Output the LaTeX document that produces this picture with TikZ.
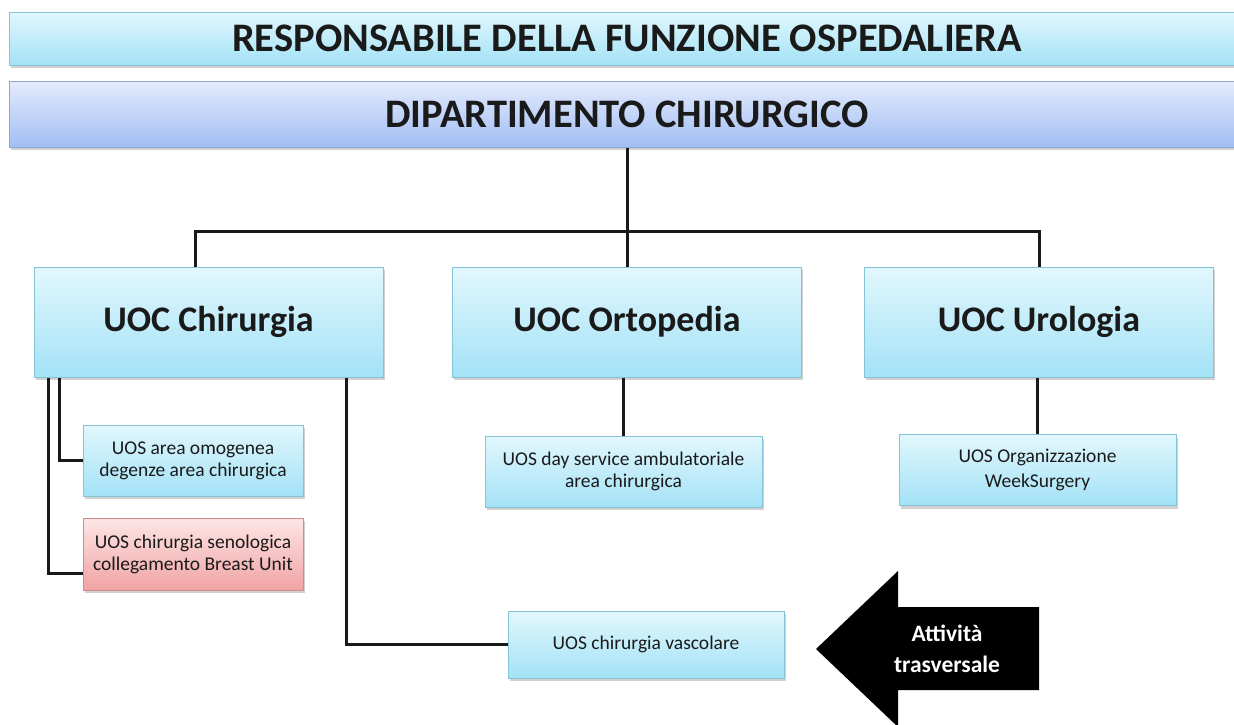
\documentclass[tikz,border=0pt]{standalone}
\usepackage{fontspec}
\setmainfont{Carlito}
\usetikzlibrary{shadows}
\definecolor{cyTop}{HTML}{E2F7FD}
\definecolor{cyBot}{HTML}{A3E2F6}
\definecolor{cyLine}{HTML}{86C3D6}
\definecolor{lvTop}{HTML}{E4EBFC}
\definecolor{lvBot}{HTML}{A2BEF4}
\definecolor{lvLine}{HTML}{8EA6D6}
\definecolor{rdTop}{HTML}{FDE6E6}
\definecolor{rdBot}{HTML}{F1A3A3}
\definecolor{rdLine}{HTML}{CF8A8A}
\definecolor{txt}{HTML}{1A1A1A}
\tikzset{
  shad/.style={drop shadow={shadow xshift=1.5pt, shadow yshift=-3pt, opacity=0.3, fill=black!60}},
  cybox/.style={shad, draw=cyLine, line width=1pt, top color=cyTop, bottom color=cyBot, inner sep=0pt, align=center, text=txt},
  lvbox/.style={shad, draw=lvLine, line width=1pt, top color=lvTop, bottom color=lvBot, inner sep=0pt, align=center, text=txt},
  rdbox/.style={shad, draw=rdLine, line width=1pt, top color=rdTop, bottom color=rdBot, inner sep=0pt, align=center, text=txt},
  uoc/.style={cybox, minimum width=349pt, minimum height=110pt, font=\fontsize{36}{40}\selectfont\bfseries},
  uos/.style={minimum width=220pt, minimum height=71pt, font=\fontsize{19.5}{22}\selectfont},
  bartext/.style={font=\fontsize{40.5}{44}\selectfont\bfseries},
  conn/.style={draw=black!90, line width=3pt},
}
\begin{document}
\begin{tikzpicture}[x=1pt,y=-1pt]
\useasboundingbox (0,0) rectangle (1234,724);
% top bars
\node[cybox, bartext, minimum width=1236pt, minimum height=53pt] (resp) at (627,38.5) {RESPONSABILE DELLA FUNZIONE OSPEDALIERA};
\node[lvbox, bartext, minimum width=1236pt, minimum height=66pt] (dip) at (627,114) {DIPARTIMENTO CHIRURGICO};
% UOC boxes
\node[uoc] (chir) at (208.5,322) {UOC Chirurgia};
\node[uoc] (orto) at (627,322) {UOC Ortopedia};
\node[uoc] (uro) at (1039,322) {UOC Urologia};
% UOS boxes
\node[cybox, uos] (omog) at (193,460.5) {UOS area omogenea\\degenze area chirurgica};
\node[rdbox, uos, minimum height=72pt] (seno) at (193,554) {UOS chirurgia senologica\\collegamento Breast Unit};
\node[cybox, uos, minimum width=277pt] (day) at (623.5,471.5) {UOS day service ambulatoriale\\area chirurgica};
\node[cybox, uos, minimum width=277pt, font=\fontsize{19.5}{25}\selectfont] (week) at (1037.5,470) {UOS Organizzazione\\WeekSurgery};
\node[cybox, uos, minimum width=276pt, minimum height=67pt] (vasc) at (646,644.5) {UOS chirurgia vascolare};
% connectors
\draw[conn] (dip.south -| orto.north) -- (orto.north);
\draw[conn] ([xshift=-13.5pt]chir.north) -- ++(0,-35) -| (uro.north);
\draw[conn] ([xshift=26pt]chir.south west) |- (omog.west);
\draw[conn] ([xshift=15pt]chir.south west) |- ([yshift=-19pt]seno.west);
\draw[conn] ([xshift=-37pt]chir.south east) |- (vasc.west);
\draw[conn] (orto.south -| day.north) -- (day.north);
\draw[conn] (uro.south -| week.north) -- (week.north);
% arrow
\fill[black] (816,649) -- (898,571) -- (898,607) -- (1039,607) -- (1039,690) -- (898,690) -- (898,727) -- cycle;
\node[text=white, align=center, font=\fontsize{23.5}{31}\selectfont\bfseries] (attiv) at (947,649) {Attività\\trasversale};
\end{tikzpicture}
\end{document}
